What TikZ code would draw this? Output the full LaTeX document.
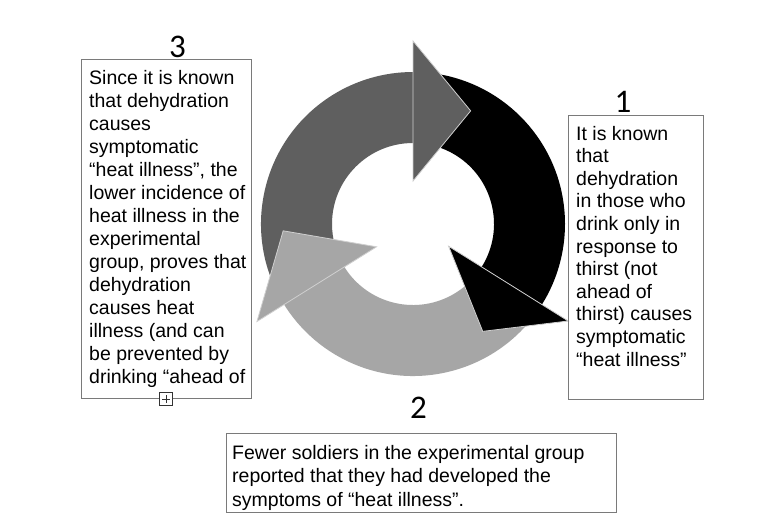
\documentclass[tikz,border=0pt]{standalone}
\usepackage{fontspec}
\setmainfont{Liberation Sans}
\newfontfamily\numfont{Carlito}
\definecolor{dgray}{HTML}{5F5F5F}
\definecolor{lgray}{HTML}{A6A6A6}
\definecolor{boxline}{HTML}{7A7A7A}
\definecolor{headline}{HTML}{CFCFCF}
\begin{document}
\begin{tikzpicture}[x=1pt,y=-1pt,
  box/.style={draw=boxline, line width=0.9pt, inner sep=0pt},
  txt/.style={anchor=north west, inner sep=0pt, align=left, font=\fontsize{19.5}{22.6}\selectfont},
  lbl/.style={anchor=base, inner sep=0pt, font=\numfont\fontsize{33}{36}\selectfont},
  headstyle/.style={draw=headline, line width=0.8pt, line join=miter}]
\useasboundingbox (0,0) rectangle (768,531);
\fill[white] (0,0) rectangle (768,531);

% cycle of three arrows
\begin{scope}[shift={(413,224)}, yscale=-1]
  \fill[dgray] (212:152) arc[start angle=212,end angle=90,radius=152] -- (90:81) arc[start angle=90,end angle=212,radius=81] -- cycle;
  \fill[black] (90:152) arc[start angle=90,end angle=-32,radius=152] -- (-32:81) arc[start angle=-32,end angle=90,radius=81] -- cycle;
  \fill[lgray] (-32:152) arc[start angle=-32,end angle=-148,radius=152] -- (-148:81) arc[start angle=-148,end angle=-32,radius=81] -- cycle;
  \path[fill=dgray, headstyle] (90:183) -- (63:127) -- (90:43) -- cycle;
  \path[fill=black, headstyle] (-32:183) -- (-57:128) -- (-32:42) -- cycle;
  \path[fill=lgray, headstyle] (212:184) -- (183:130) -- (212:43) -- cycle;
\end{scope}

% boxes
\node[box, minimum width=170pt, minimum height=339pt] (b3) at (166,228.5) {};
\node[box, minimum width=135pt, minimum height=284pt] (b1) at (635.5,257) {};

\node[txt, font=\fontsize{19.5}{23}\selectfont] (t3) at (89,68.5) {\strut Since it is known\\that dehydration\\causes\\symptomatic\\“heat illness”, the\\lower incidence of\\heat illness in the\\experimental\\group, proves that\\dehydration\\causes heat\\illness (and can\\be prevented by\\drinking “ahead of};

\node[txt] (t1) at (576,124) {\strut It is known\\that\\dehydration\\in those who\\drink only in\\response to\\thirst (not\\ahead of\\thirst) causes\\symptomatic\\“heat illness”};

\begin{scope}
  \clip (226,433) rectangle (616,511);
  \node[txt, font=\fontsize{19.5}{23.5}\selectfont] (t2) at (232,442.5) {\strut Fewer soldiers in the experimental group\\reported that they had developed the\\symptoms of “heat illness”.};
\end{scope}
\node[box, minimum width=390pt, minimum height=79pt] (b2) at (421,472.5) {};

% expand marker
\node[draw=black!80, fill=white, line width=0.7pt, minimum size=13pt, inner sep=0pt] (plus) at (166,399) {};
\draw[black!80, line width=0.7pt] ([yshift=-3pt]plus.north) -- ([yshift=3pt]plus.south);
\draw[black!80, line width=0.7pt] ([xshift=3pt]plus.west) -- ([xshift=-3pt]plus.east);

% labels
\node[lbl] (n3) at (177.5,57) {3};
\node[lbl] (n1) at (623,112) {1};
\node[lbl] (n2) at (418.5,418) {2};
\end{tikzpicture}
\end{document}
